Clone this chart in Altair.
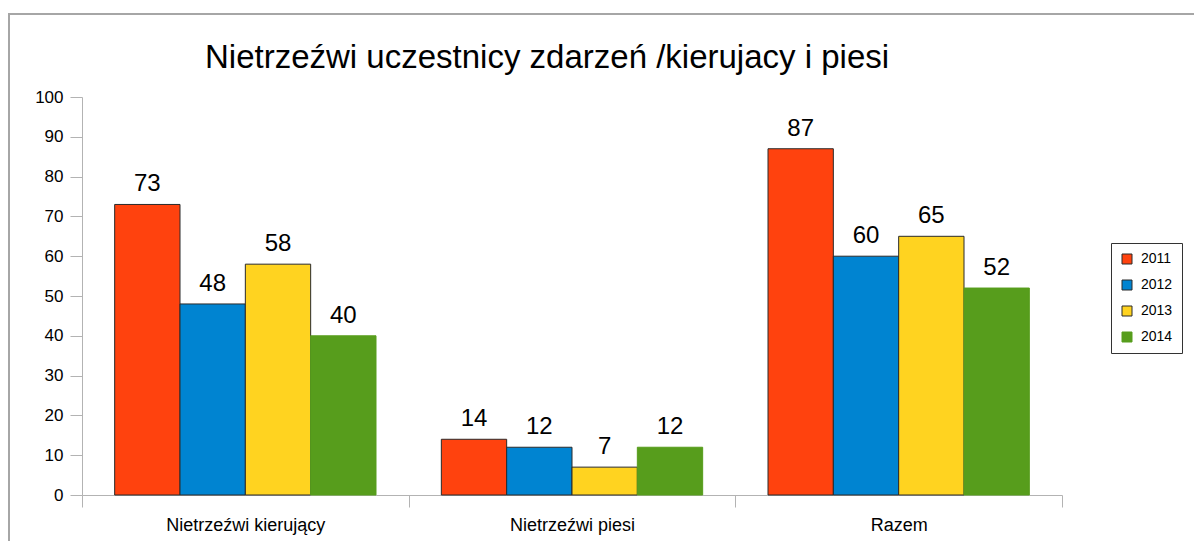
import altair as alt
import pandas as pd

categories = ["Nietrzeźwi kierujący", "Nietrzeźwi piesi", "Razem"]
years = ["2011", "2012", "2013", "2014"]
v2011 = [73, 14, 87]
v2012 = [48, 12, 60]
v2013 = [58, 7, 65]
v2014 = [40, 12, 52]
fill_colors = ["#ff420e", "#0084d1", "#ffd320", "#579d1c"]
stroke_colors = ["#2a2a2a", "#2a2a2a", "#2a2a2a", "#579d1c"]
y_ticks = [0, 10, 20, 30, 40, 50, 60, 70, 80, 90, 100]
title_text = "Nietrzeźwi uczestnicy zdarzeń /kierujacy i piesi"

rows = []
for yr, vals in zip(years, [v2011, v2012, v2013, v2014]):
    for c, v in zip(categories, vals):
        rows.append({"kategoria": c, "rok": yr, "wartosc": v})
df = pd.DataFrame(rows)

FONT = "Liberation Sans"

x_enc = alt.X("kategoria:N", sort=categories,
              scale=alt.Scale(paddingInner=0, paddingOuter=0),
              axis=alt.Axis(title=None, labelAngle=0, labelFontSize=18, labelColor="#000",
                            labelFont=FONT, labelBaseline="alphabetic", labelPadding=23,
                            tickBand="extent", tickSize=12, tickColor="#b3b3b3",
                            domainColor="#b3b3b3", grid=False))
xo_enc = alt.XOffset("rok:N", sort=years,
                     scale=alt.Scale(paddingInner=0, paddingOuter=0.5))
y_enc = alt.Y("wartosc:Q", scale=alt.Scale(domain=[0, 100], nice=False),
              axis=alt.Axis(title=None, values=y_ticks, labelFontSize=17, labelColor="#000",
                            labelFont=FONT, tickSize=12, labelPadding=7,
                            tickColor="#b3b3b3", domainColor="#b3b3b3", grid=False,
                            labelOverlap=False))

bars = alt.Chart(df).mark_bar(strokeWidth=1).encode(
    x=x_enc,
    xOffset=xo_enc,
    y=y_enc,
    color=alt.Color("rok:N", sort=years,
                    scale=alt.Scale(domain=years, range=fill_colors),
                    legend=alt.Legend(title=None)),
    stroke=alt.Stroke("rok:N", sort=years,
                      scale=alt.Scale(domain=years, range=stroke_colors),
                      legend=alt.Legend(title=None)),
)

labels = alt.Chart(df).mark_text(fontSize=24, font=FONT, baseline="alphabetic",
                                 dy=-13, color="#000").encode(
    x=x_enc,
    xOffset=xo_enc,
    y=y_enc,
    text=alt.Text("wartosc:Q"),
)

frame = alt.Chart(pd.DataFrame({"k": [0]})).mark_rect(
    fill="transparent", stroke="#a6a6a6", strokeWidth=2
).encode(
    x=alt.value(-73), x2=alt.value(1200), y=alt.value(-83), y2=alt.value(600)
)

title = alt.Chart(pd.DataFrame({"t": [title_text]})).mark_text(
    fontSize=33, font=FONT, color="#000", align="left", baseline="alphabetic"
).encode(
    text="t:N", x=alt.value(123), y=alt.value(-29)
)

chart = alt.layer(frame, bars, labels, title).properties(
    width=980,
    height=398,
    autosize=alt.AutoSizeParams(type="none"),
    padding={"left": 74, "top": 89, "right": 132, "bottom": 46},
).configure_view(strokeWidth=0).configure_legend(
    orient="none", legendX=1029, legendY=146, strokeColor="#333", fillColor="#fff",
    padding=9, symbolType="square", symbolSize=100, symbolStrokeWidth=1,
    labelFontSize=14, labelFont=FONT, labelColor="#000", rowPadding=12, labelOffset=7
)

chart.save("out.html", embed_options={"renderer": "svg", "actions": False})
